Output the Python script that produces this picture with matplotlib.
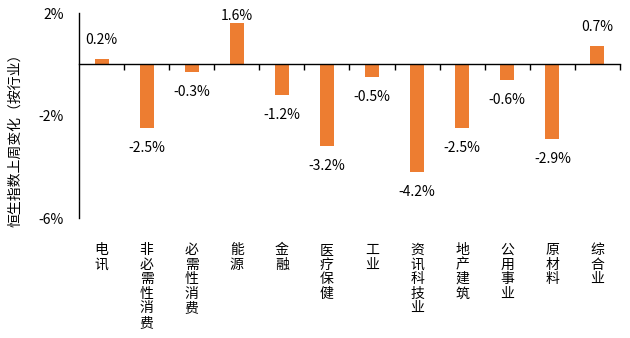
import numpy as np
import matplotlib.pyplot as plt

plt.rcParams['font.family'] = ['Noto Sans CJK SC', 'DejaVu Sans']

# data
sectors = ['电讯', '非必需性消费', '必需性消费', '能源', '金融', '医疗保健', '工业',
           '资讯科技业', '地产建筑', '公用事业', '原材料', '综合业']
change = [0.2, -2.5, -0.3, 1.6, -1.2, -3.2, -0.5, -4.2, -2.5, -0.6, -2.9, 0.7]
yticks = [2, -2, -6]

fig = plt.figure(figsize=(6.3, 3.38), dpi=100)
ax = fig.add_axes([0.1254, 0.355, 0.8587, 0.6065])

x = np.arange(len(sectors))
ax.bar(x, change, width=0.31, color='#ED7D31', zorder=2)

ax.set_xlim(-0.5, len(sectors) - 0.5)
ax.set_ylim(-6, 2)

# value labels
for xi, v in zip(x, change):
    if v >= 0:
        y = min(v + 0.75, 1.88)
    else:
        y = v - 0.78
    ax.text(xi, y, '{:.1f}%'.format(v), ha='center', va='center', fontsize=10)

# category labels, characters stacked vertically
for xi, name in zip(x, sectors):
    ax.annotate('\n'.join(name), xy=(xi, 0), xycoords=('data', 'axes fraction'),
                xytext=(0, -18), textcoords='offset points',
                ha='center', va='top', fontsize=10, linespacing=1.05)

ax.spines['top'].set_visible(False)
ax.spines['right'].set_visible(False)
ax.spines['bottom'].set_position(('data', 0))
ax.spines['bottom'].set_linewidth(1.0)
ax.spines['left'].set_linewidth(1.0)

ax.set_xticks(x)
ax.set_xticklabels([])
ax.tick_params(axis='x', which='major', length=0)
ax.set_xticks(np.arange(0.5, len(sectors), 1.0), minor=True)
ax.tick_params(axis='x', which='minor', length=4.5, direction='out', width=1.0)

ax.set_yticks(yticks)
ax.set_yticklabels(['{}%'.format(t) for t in yticks], fontsize=10)
ax.tick_params(axis='y', length=0, pad=11)

fig.text(15 / 630, 1 - 137 / 338, '恒生指数上周变化（按行业）', rotation=90,
         ha='center', va='center', fontsize=10)

fig.savefig('out.png', dpi=100)
